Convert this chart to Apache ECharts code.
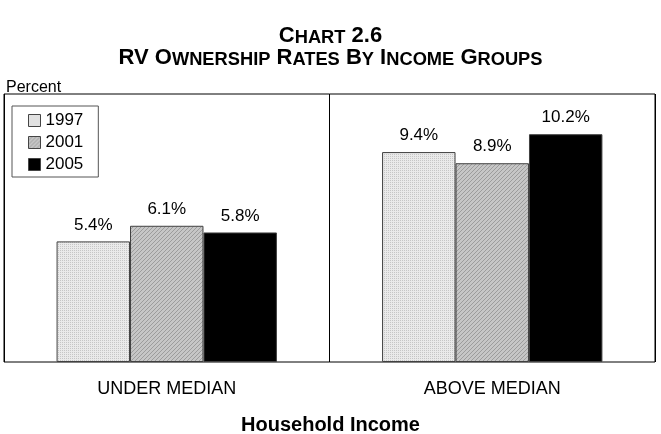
<!DOCTYPE html>
<html><head><meta charset="utf-8">
<script src="https://cdn.jsdelivr.net/npm/echarts@6/dist/echarts.min.js"></script>
<style>html,body{margin:0;padding:0;background:#fff}#c{width:661px;height:434px}</style>
</head><body><div id="c"></div>
<script>
var categories = ['UNDER MEDIAN', 'ABOVE MEDIAN'];
var years = ['1997', '2001', '2005'];
var v1997 = [5.4, 9.4];
var v2001 = [6.1, 8.9];
var v2005 = [5.8, 10.2];

function makePattern(kind) {
  var c = document.createElement('canvas');
  c.width = 4; c.height = 4;
  var g = c.getContext('2d');
  if (kind === 'dots') {
    g.fillStyle = '#eaeaea'; g.fillRect(0, 0, 4, 4);
    g.fillStyle = '#c6c6c6';
    g.fillRect(0, 0, 1, 1); g.fillRect(2, 2, 1, 1);
    g.fillRect(2, 0, 1, 1); g.fillRect(0, 2, 1, 1);
  } else {
    g.fillStyle = '#c6c6c6'; g.fillRect(0, 0, 4, 4);
    g.fillStyle = '#9c9c9c';
    for (var i = 0; i < 4; i++) { g.fillRect(i, 3 - i, 1, 1); }
  }
  return { image: c, repeat: 'repeat' };
}
var fills = [makePattern('dots'), makePattern('hatch'), '#000000'];
var values = [v1997, v2001, v2005];

var chart = echarts.init(document.getElementById('c'), null, { renderer: 'canvas' });
var FF = '"Liberation Sans", Arial, sans-serif';
var B = { fontFamily: FF, fontSize: 22, fontWeight: 'bold', color: '#000', lineHeight: 22.5, verticalAlign: 'bottom' };
var S = { fontFamily: FF, fontSize: 18.3, fontWeight: 'bold', color: '#000', lineHeight: 22.5, verticalAlign: 'bottom' };
chart.setOption({
  animation: false,
  title: [
    {
      text: '{b|C}{s|HART}{b| 2.6}\n{b|RV O}{s|WNERSHIP}{b| R}{s|ATES}{b| B}{s|Y}{b| I}{s|NCOME}{b| G}{s|ROUPS}',
      left: 'center', top: 24, padding: 0,
      textStyle: { fontFamily: FF, color: '#000', lineHeight: 22.5, rich: { b: B, s: S } }
    },
    {
      text: 'Percent', left: 6, top: 80, padding: 0,
      textStyle: { fontFamily: FF, fontSize: 16, fontWeight: 'normal', color: '#000' }
    },
    {
      text: 'Household Income', left: 'center', top: 415, padding: 0,
      textStyle: { fontFamily: FF, fontSize: 20, fontWeight: 'bold', color: '#000' }
    }
  ],
  legend: {
    orient: 'vertical', left: 12, top: 106,
    data: years,
    itemWidth: 12, itemHeight: 12, itemGap: 5,
    padding: [6, 15, 4, 16],
    borderColor: '#555', borderWidth: 1,
    icon: 'rect',
    textStyle: { fontFamily: FF, fontSize: 17, color: '#000' },
    itemStyle: { borderColor: '#444', borderWidth: 1 }
  },
  grid: {
    left: 4, right: 6, top: 94, bottom: 72,
    show: true, borderColor: '#000', borderWidth: 1, backgroundColor: 'transparent'
  },
  xAxis: {
    type: 'category', data: categories,
    axisLine: { show: false }, axisTick: { show: false },
    splitLine: { show: true, lineStyle: { color: '#000', width: 1 } },
    axisLabel: { fontFamily: FF, fontSize: 18, color: '#000', margin: 18 }
  },
  yAxis: {
    type: 'value', min: 0, max: 12, interval: 2, show: false
  },
  series: years.map(function (y, i) {
    return {
      name: y, type: 'bar', data: values[i],
      barGap: '0%', barCategoryGap: '32.3%',
      itemStyle: { color: fills[i], borderColor: '#404040', borderWidth: 1 },
      label: {
        show: true, position: 'top', distance: 8,
        formatter: function (p) { return p.value.toFixed(1) + '%'; },
        fontFamily: FF, fontSize: 17, color: '#000'
      }
    };
  })
});
</script></body></html>
